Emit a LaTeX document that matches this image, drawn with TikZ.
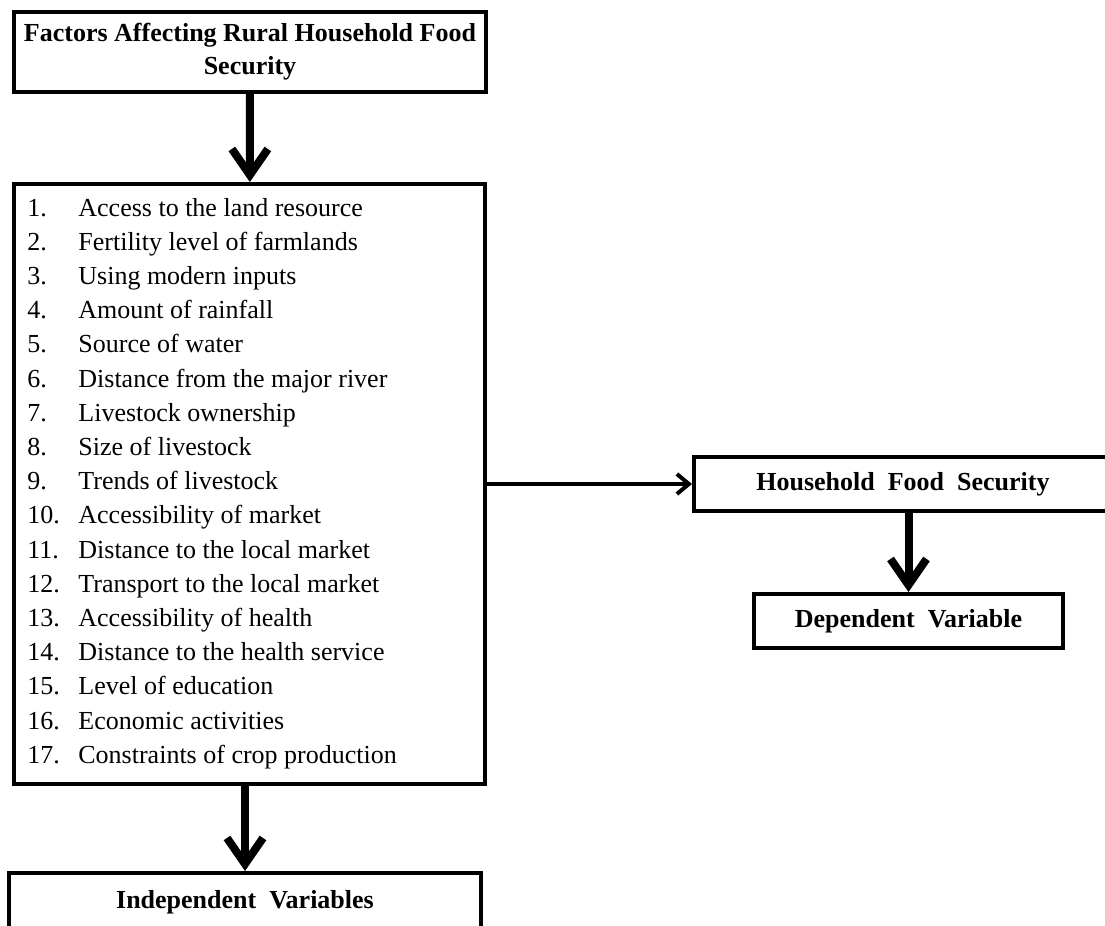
\documentclass[tikz,border=0pt]{standalone}
\usepackage{fontspec}
\setmainfont{Liberation Serif}
\usetikzlibrary{arrows.meta}

\begin{document}
\begin{tikzpicture}[x=0.5pt,y=-0.5pt,
  box/.style={draw,line width=2pt,fill=white,inner sep=0pt,font=\fontsize{13}{16.5}\selectfont\bfseries},
  bigarrow/.style={line width=4pt,-{Straight Barb[length=13pt,width=18pt]}},
  thinarrow/.style={line width=2pt,-{Straight Barb[length=6pt,width=10pt]}},
  item/.style={anchor=base west,inner sep=0pt,font=\fontsize{13}{16}\selectfont}]

\useasboundingbox (0,0) rectangle (1105,926);

% Title
\node[box,minimum width=236pt,minimum height=40pt,align=center] (title) at (250,52) {Factors Affecting Rural Household Food\\Security};

% List of factors
\node[box,minimum width=235.5pt,minimum height=300pt] (factors) at (249.5,484) {};
\foreach \txt [count=\i] in {Access to the land resource, Fertility level of farmlands,
  Using modern inputs, Amount of rainfall, Source of water, Distance from the major river,
  Livestock ownership, Size of livestock, Trends of livestock, Accessibility of market,
  Distance to the local market, Transport to the local market, Accessibility of health,
  Distance to the health service, Level of education, Economic activities,
  Constraints of crop production} {
  \node[item] (num\i) at (27,216+34.2*\i-34.2) {\i.};
  \node[item] (item\i) at (78,216+34.2*\i-34.2) {\txt};
}

% Independent variables
\node[box,minimum width=236pt,minimum height=29pt] (indep) at (245,902) {Independent\ \ Variables};

% Household food security
\node[box,minimum width=209pt,minimum height=27pt] (hfs) at (903,484) {Household\ \ Food\ \ Security};

% Dependent variable
\node[box,minimum width=154.5pt,minimum height=27pt] (depvar) at (908.5,621) {Dependent\ \ Variable};

% Arrows
\draw[bigarrow] (title) -- (factors);
\draw[bigarrow] (factors.south -| indep.north) -- (indep.north);
\draw[thinarrow] (factors.east) -- (hfs.west);
\draw[bigarrow] (hfs.south -| depvar.north) -- (depvar.north);

\end{tikzpicture}
\end{document}
